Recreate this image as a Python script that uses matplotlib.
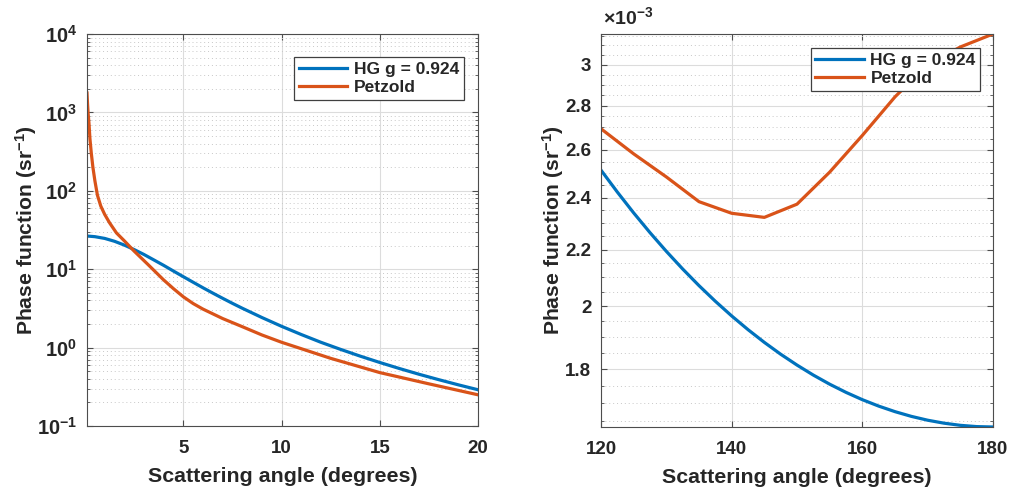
import numpy as np
import matplotlib
matplotlib.use("Agg")
import matplotlib.pyplot as plt
from matplotlib.ticker import FixedLocator, FixedFormatter, LogLocator, NullFormatter

""" Data read off the figure """
# left panel: forward scattering (degrees, sr^-1)
hg_angle_fwd = [0.1, 0.5, 1, 1.5, 2, 2.5, 3, 3.5, 4, 4.5, 5, 5.5, 6, 6.5, 7, 7.5, 8, 9, 10,
                11, 12, 13, 14, 15, 16, 17, 18, 19, 20]
hg_phase_fwd = [26.5, 26.0, 24.7, 22.7, 20.3, 17.8, 15.4, 13.14, 11.2, 9.47, 8.03, 6.82,
                5.80, 4.96, 4.26, 3.67, 3.18, 2.42, 1.87, 1.47, 1.17, 0.950, 0.779, 0.646,
                0.541, 0.457, 0.390, 0.335, 0.290]

petz_angle_fwd = [0.1, 0.13, 0.16, 0.2, 0.25, 0.32, 0.4, 0.5, 0.63, 0.8, 1.0, 1.25, 1.6,
                  2.0, 2.5, 3.2, 4.0, 4.5, 5.0, 5.5, 6.0, 7.0, 8.0, 9.0, 10, 12.5, 15,
                  17.5, 20]
petz_phase_fwd = [1767, 1250, 950, 730, 460, 300, 200, 135, 88, 64, 50, 39, 29,
                  23, 17, 11.5, 7.3, 5.65, 4.45, 3.65, 3.1, 2.35, 1.85, 1.45, 1.17, 0.73,
                  0.48, 0.345, 0.25]

# right panel: backward scattering (degrees, sr^-1)
hg_angle_back = [120, 122.5, 125, 127.5, 130, 132.5, 135, 137.5, 140, 142.5, 145, 147.5,
                 150, 152.5, 155, 157.5, 160, 162.5, 165, 167.5, 170, 172.5, 175, 177.5, 180]
hg_phase_back = [2.5134e-3, 2.4227e-3, 2.3395e-3, 2.2633e-3, 2.1935e-3, 2.1295e-3, 2.0709e-3,
                 2.0173e-3, 1.9683e-3, 1.9236e-3, 1.8829e-3, 1.8459e-3, 1.8126e-3, 1.7824e-3,
                 1.7554e-3, 1.7315e-3, 1.7104e-3, 1.6921e-3, 1.6764e-3, 1.6632e-3, 1.6525e-3,
                 1.6443e-3, 1.6384e-3, 1.6349e-3, 1.6338e-3]

petz_angle_back = [120, 125, 130, 135, 140, 145, 150, 155, 160, 165, 170, 175, 180]
petz_phase_back = [2.694e-3, 2.583e-3, 2.485e-3, 2.384e-3, 2.338e-3, 2.322e-3, 2.374e-3,
                   2.505e-3, 2.664e-3, 2.842e-3, 3.0e-3, 3.09e-3, 3.158e-3]

legend_labels = ["HG g = 0.924", "Petzold"]
xlabel = "Scattering angle (degrees)"
ylabel = r"Phase function (sr$^{-1}$)"

left_xticks = [5, 10, 15, 20]
right_xticks = [120, 140, 160, 180]
right_yticks = [1.8e-3, 2.0e-3, 2.2e-3, 2.4e-3, 2.6e-3, 2.8e-3, 3.0e-3]
right_yticklabels = ["1.8", "2", "2.2", "2.4", "2.6", "2.8", "3"]

""" Style """
blue = "#0072BD"
orange = "#D95319"
txt_col = "#262626"
lw = 2.3

plt.rcParams.update({
    "font.family": "Liberation Sans",
    "font.weight": "bold",
    "axes.labelweight": "bold",
    "mathtext.fontset": "custom",
    "mathtext.rm": "Liberation Sans:bold",
    "mathtext.it": "Liberation Sans:bold",
    "mathtext.bf": "Liberation Sans:bold",
    "mathtext.sf": "Liberation Sans:bold",
})


def style_axes(ax, ylab_x, ylab_size=13.5):
    for sp in ax.spines.values():
        sp.set_color("#4d4d4d")
        sp.set_linewidth(0.8)
    ax.tick_params(which="both", direction="in", top=True, right=True, colors="#4d4d4d",
                   labelcolor=txt_col, labelsize=13.5)
    ax.tick_params(axis="y", labelsize=ylab_size)
    ax.tick_params(which="major", length=4)
    ax.tick_params(which="minor", length=2)
    ax.tick_params(axis="x", which="minor", top=False, bottom=False)
    ax.tick_params(axis="x", which="major", pad=10)
    ax.tick_params(axis="y", which="major", pad=7)
    ax.grid(True, which="major", color="#dcdcdc", linewidth=0.8, linestyle="-")
    ax.grid(True, which="minor", axis="y", color="#c8c8c8", linewidth=0.7, linestyle=(0, (1, 3)))
    ax.set_axisbelow(True)
    ax.set_xlabel(xlabel, fontsize=15.4, color=txt_col, labelpad=7)
    ax.set_ylabel(ylabel, fontsize=15.2, color=txt_col)
    ax.yaxis.set_label_coords(ylab_x, 0.5)


def add_legend(ax, anchor):
    leg = ax.legend(loc="upper right", bbox_to_anchor=anchor, borderaxespad=0,
                    fancybox=False, framealpha=1, edgecolor="#404040", fontsize=12.5,
                    handlelength=2.8, handletextpad=0.4, borderpad=0.25, labelspacing=0.2)
    leg.get_frame().set_linewidth(0.9)
    for t in leg.get_texts():
        t.set_color(txt_col)


fig = plt.figure(figsize=(10.11, 4.92), dpi=100)
ax1 = fig.add_axes([87 / 1011, 66 / 492, 391 / 1011, 392 / 492])
ax2 = fig.add_axes([601 / 1011, 65 / 492, 392 / 1011, 393 / 492])

""" Left panel """
ax1.plot(hg_angle_fwd, hg_phase_fwd, color=blue, lw=lw, label=legend_labels[0])
ax1.plot(petz_angle_fwd, petz_phase_fwd, color=orange, lw=lw, label=legend_labels[1])
ax1.set_yscale("log")
ax1.set_xlim(0.1, 20)
ax1.set_ylim(1e-1, 1e4)
ax1.set_xticks(left_xticks)
ax1.yaxis.set_major_locator(LogLocator(base=10, numticks=10))
ax1.yaxis.set_minor_locator(LogLocator(base=10, subs=np.arange(2, 10), numticks=20))
ax1.yaxis.set_minor_formatter(NullFormatter())
style_axes(ax1, -0.123, ylab_size=14.5)
add_legend(ax1, (0.964, 0.941))

""" Right panel """
ax2.plot(hg_angle_back, hg_phase_back, color=blue, lw=lw, label=legend_labels[0])
ax2.plot(petz_angle_back, petz_phase_back, color=orange, lw=lw, label=legend_labels[1])
ax2.set_yscale("log")
ax2.set_xlim(120, 180)
ax2.set_ylim(min(hg_phase_back), max(petz_phase_back))
ax2.set_xticks(right_xticks)
ax2.yaxis.set_major_locator(FixedLocator(right_yticks))
ax2.yaxis.set_major_formatter(FixedFormatter(right_yticklabels))
ax2.yaxis.set_minor_locator(FixedLocator(np.arange(1.65, 3.16, 0.05) * 1e-3))
ax2.yaxis.set_minor_formatter(NullFormatter())
style_axes(ax2, -0.09)
ax2.text(0.005, 1.015, r"$\times$10$^{-3}$", transform=ax2.transAxes, ha="left", va="bottom",
         fontsize=14, color=txt_col)
add_legend(ax2, (0.967, 0.964))

fig.savefig("out.png", dpi=100)
